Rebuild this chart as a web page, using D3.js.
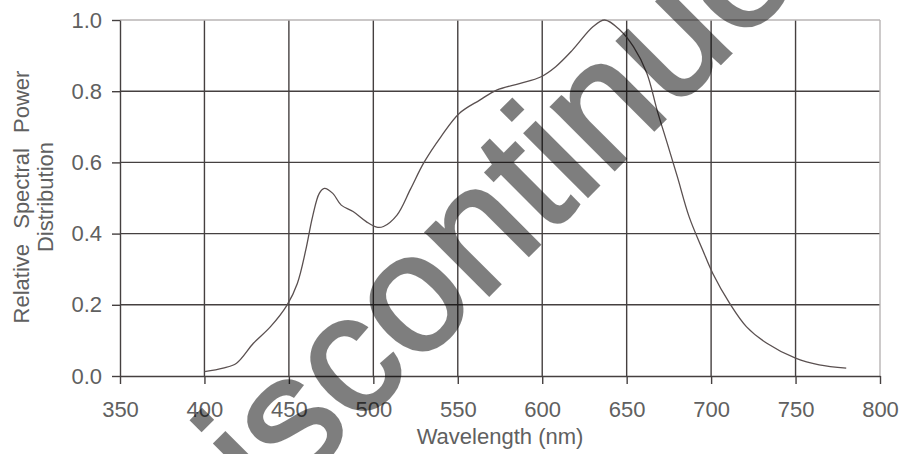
<!DOCTYPE html>
<html>
<head>
<meta charset="utf-8">
<script src="https://cdn.jsdelivr.net/npm/d3@7"></script>
<style>
  body { margin: 0; background: #fff; }
  text { font-family: "Liberation Sans", Arial, sans-serif; }
</style>
</head>
<body>
<div id="chart"></div>
<script>
// spectrum
var wavelength = [400, 411, 419, 429, 439, 449, 455, 460, 464, 468, 471, 476, 481, 488, 496, 502, 506, 514, 522, 530, 540, 551, 563, 573, 587, 599, 608, 618, 630, 637, 646, 654, 662, 668, 674, 680, 687, 695, 701, 711, 721, 733, 750, 764, 780];
var power      = [0.012, 0.022, 0.036, 0.092, 0.138, 0.2, 0.26, 0.354, 0.447, 0.513, 0.527, 0.513, 0.48, 0.462, 0.433, 0.418, 0.42, 0.452, 0.525, 0.6, 0.672, 0.738, 0.775, 0.803, 0.822, 0.84, 0.869, 0.916, 0.981, 1.0, 0.972, 0.925, 0.85, 0.747, 0.654, 0.56, 0.447, 0.354, 0.288, 0.204, 0.138, 0.092, 0.05, 0.031, 0.022];
var xTicks = [350, 400, 450, 500, 550, 600, 650, 700, 750, 800];
var yTicks = [0, 0.2, 0.4, 0.6, 0.8, 1.0];

var W = 920, H = 454;
var margin = {top: 20, right: 40, bottom: 78, left: 120};
var w = W - margin.left - margin.right,
    h = H - margin.top - margin.bottom;

var svg = d3.select('#chart').append('svg')
  .attr('width', W)
  .attr('height', H);

var g = svg.append('g')
  .attr('transform', 'translate(' + margin.left + ',' + margin.top + ')');

var x = d3.scaleLinear().domain([350, 800]).range([0, w]);
var y = d3.scaleLinear().domain([0, 1]).range([h, 0]);

var gridCol = '#454040', labelCol = '#606060';

// grid
g.selectAll('.vgrid').data(xTicks.slice(1, -1)).enter().append('line')
  .attr('x1', function(d){ return x(d); }).attr('x2', function(d){ return x(d); })
  .attr('y1', 0).attr('y2', h)
  .style('stroke', gridCol).style('stroke-width', 1.4);
g.selectAll('.hgrid').data(yTicks.slice(1, -1)).enter().append('line')
  .attr('y1', function(d){ return y(d); }).attr('y2', function(d){ return y(d); })
  .attr('x1', 0).attr('x2', w)
  .style('stroke', gridCol).style('stroke-width', 1.4);

// light frame top / right
g.append('line').attr('x1', 0).attr('x2', w).attr('y1', 0).attr('y2', 0)
  .style('stroke', '#b8b4b4').style('stroke-width', 1.4);
g.append('line').attr('x1', w).attr('x2', w).attr('y1', 0).attr('y2', h)
  .style('stroke', '#b8b4b4').style('stroke-width', 1.4);

// axes
function styleAxis(sel){
  sel.selectAll('path, line').style('stroke', gridCol).style('stroke-width', 1.4);
  sel.selectAll('text').style('fill', labelCol).style('font-size', '22px')
    .style('font-family', '"Liberation Sans", Arial, sans-serif');
}
g.append('g')
  .attr('transform', 'translate(0,' + h + ')')
  .call(d3.axisBottom(x).tickValues(xTicks).tickSize(8).tickSizeOuter(0).tickPadding(17).tickFormat(d3.format('d')))
  .call(styleAxis);
g.append('g')
  .call(d3.axisLeft(y).tickValues(yTicks).tickSize(8).tickSizeOuter(0).tickPadding(10).tickFormat(d3.format('.1f')))
  .call(styleAxis);

// titles
svg.append('text')
  .attr('x', margin.left + w / 2).attr('y', 444)
  .attr('text-anchor', 'middle')
  .style('font-size', '22px').style('fill', labelCol)
  .text('Wavelength (nm)');

var yt = svg.append('text')
  .attr('transform', 'translate(0,197) rotate(-90)')
  .attr('text-anchor', 'middle')
  .style('font-size', '22px').style('fill', labelCol)
  .style('word-spacing', '9px');
yt.append('tspan').attr('x', 0).attr('y', 29).text('Relative Spectral Power');
yt.append('tspan').attr('x', 0).attr('y', 53).text('Distribution');

// curve
var pts = wavelength.map(function(d, i){ return {wl: d, v: power[i]}; });
var line = d3.line()
  .curve(d3.curveCatmullRom)
  .x(function(d){ return x(d.wl); })
  .y(function(d){ return y(d.v); });
g.append('path')
  .datum(pts)
  .attr('d', line)
  .style('fill', 'none')
  .style('stroke', '#5a5050')
  .style('stroke-width', 1.3);

// watermark (starts off-canvas bottom-left)
svg.append('g')
  .style('opacity', 0.5)
  .append('text')
  .attr('transform', 'translate(184,600) rotate(-45)')
  .style('font-size', '168px')
  .style('fill', '#000')
  .style('stroke', '#000')
  .style('stroke-width', 3)
  .style('stroke-linejoin', 'miter')
  .text('Discontinued');
</script>
</body>
</html>
